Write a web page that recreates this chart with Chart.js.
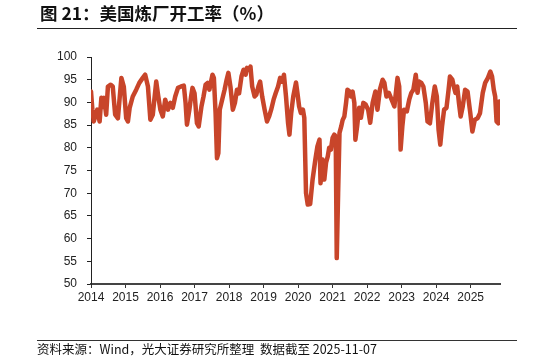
<!DOCTYPE html>
<html><head><meta charset="utf-8">
<script src="https://cdn.jsdelivr.net/npm/chart.js@4"></script>
<style>
html,body{margin:0;padding:0;background:#fff;}
#wrap{position:relative;width:549px;height:361px;overflow:hidden;background:#fff;}
#title{position:absolute;left:40px;top:3px;font:bold 17.5px "Noto Sans CJK SC",sans-serif;color:#111;line-height:20px;white-space:nowrap;}
#tline{position:absolute;left:37px;top:28px;width:480px;height:0;border-top:1px solid #222;}
#fline{position:absolute;left:37px;top:340px;width:480px;height:0;border-top:1px solid #333;}
#foot{position:absolute;left:37px;top:341px;font:12.5px "Noto Sans CJK SC",sans-serif;color:#111;line-height:16px;white-space:nowrap;}
#cv{position:absolute;left:0;top:0;}
</style></head>
<body><div id="wrap">
<canvas id="cv" width="549" height="361"></canvas>
<div id="title">图 21：美国炼厂开工率（%）</div>
<div id="tline"></div>
<div id="fline"></div>
<div id="foot">资料来源：Wind，光大证券研究所整理&nbsp; 数据截至 2025-11-07</div>
</div>
<script>
// decimal-year dates
const dates = [
2014.00,2014.04,2014.08,2014.18,2014.25,2014.30,2014.34,2014.38,2014.44,2014.49,2014.57,2014.63,2014.70,2014.78,2014.88,2014.95,
2015.02,2015.07,2015.12,2015.21,2015.31,2015.40,2015.50,2015.57,2015.65,2015.72,2015.79,2015.89,2015.95,
2016.01,2016.08,2016.15,2016.23,2016.30,2016.37,2016.44,2016.52,2016.61,2016.69,2016.74,2016.78,2016.85,2016.90,2016.94,
2017.00,2017.07,2017.12,2017.20,2017.26,2017.32,2017.38,2017.43,2017.52,2017.56,2017.61,2017.65,2017.69,2017.73,2017.80,2017.87,2017.93,2017.98,
2018.04,2018.11,2018.17,2018.23,2018.29,2018.36,2018.42,2018.48,2018.52,2018.58,2018.62,2018.67,2018.74,2018.79,2018.85,2018.90,2018.96,
2019.03,2019.10,2019.16,2019.22,2019.29,2019.35,2019.42,2019.48,2019.54,2019.59,2019.65,2019.71,2019.75,2019.80,2019.86,2019.94,2019.98,
2020.03,2020.08,2020.14,2020.18,2020.23,2020.28,2020.35,2020.42,2020.50,2020.56,2020.62,2020.65,2020.71,2020.76,2020.81,2020.86,2020.90,2020.95,
2021.00,2021.05,2021.09,2021.12,2021.16,2021.20,2021.25,2021.29,2021.34,2021.39,2021.43,2021.49,2021.53,2021.58,2021.63,2021.66,2021.71,2021.77,2021.82,2021.89,2021.96,
2022.03,2022.09,2022.16,2022.24,2022.30,2022.37,2022.45,2022.50,2022.56,2022.63,2022.71,2022.79,2022.88,2022.93,2022.97,
2023.02,2023.07,2023.15,2023.22,2023.28,2023.34,2023.41,2023.46,2023.51,2023.57,2023.63,2023.70,2023.75,2023.82,2023.89,2023.96,
2024.02,2024.07,2024.12,2024.17,2024.23,2024.30,2024.36,2024.40,2024.47,2024.51,2024.56,2024.61,2024.66,2024.71,2024.77,2024.84,2024.91,2024.99,
2025.05,2025.12,2025.20,2025.27,2025.35,2025.42,2025.50,2025.57,2025.62,2025.67,2025.71,2025.75,2025.80,2025.83,2025.85
];
// refinery utilization (%)
const utilization = [
92.4,88.4,85.8,88.4,85.8,91.0,89.0,91.0,87.3,93.5,93.9,93.5,87.3,86.5,95.4,93.5,
86.5,85.8,88.8,91.3,92.8,94.3,95.4,96.1,93.5,86.2,87.3,94.6,91.3,
88.4,86.9,90.6,88.4,89.9,88.8,91.3,93.2,93.5,93.7,89.9,85.1,88.4,91.3,93.2,
92.0,85.4,84.7,89.1,91.3,93.9,94.3,92.8,96.1,95.4,87.6,77.7,78.8,88.4,90.6,92.8,95.0,96.5,
93.5,88.4,89.9,92.8,92.0,95.7,97.2,96.1,97.6,97.2,97.9,93.5,91.3,91.7,93.5,94.6,91.3,
88.4,85.8,86.9,88.4,90.6,92.0,93.5,95.4,94.6,96.1,91.3,85.4,82.9,87.6,91.3,94.4,92.1,
89.1,87.7,88.4,86.6,70.0,67.5,67.6,73.0,77.4,80.3,81.8,72.2,77.4,73.0,76.7,78.1,80.0,79.6,
82.2,82.9,82.5,55.7,70.0,83.3,84.7,86.1,86.9,89.9,92.8,92.4,91.3,92.4,89.9,81.8,84.7,88.8,86.6,89.9,89.5,
88.4,85.5,89.9,92.4,88.4,92.8,95.0,94.3,91.3,92.1,90.6,89.1,95.4,93.5,79.6,
84.7,88.4,88.0,90.6,92.1,92.8,96.1,92.1,94.6,94.3,93.5,89.9,85.8,85.4,89.9,93.5,
91.3,84.0,80.7,84.7,88.4,88.8,92.8,95.7,95.0,93.5,92.1,93.5,89.9,86.9,89.1,92.8,92.4,87.6,
83.6,86.2,86.5,87.6,92.1,94.3,95.4,96.8,95.7,92.8,91.3,85.8,85.4,90.2,89.5
];
const yearTicks = [2014,2015,2016,2017,2018,2019,2020,2021,2022,2023,2024,2025];
const yTicks = [50,55,60,65,70,75,80,85,90,95,100];

const points = dates.map((d,i)=>({x:d,y:utilization[i]}));
const tickFont = {family:'"Liberation Sans", Arial, sans-serif', size:12};

new Chart(document.getElementById('cv'), {
  type:'line',
  data:{datasets:[{
    data:points,
    borderColor:'#c8452a',
    borderWidth:4.5,
    pointRadius:0,
    tension:0,
    borderJoinStyle:'round',
    borderCapStyle:'round',
    fill:false
  }]},
  options:{
    responsive:false,
    animation:false,
    devicePixelRatio:1,
    layout:{padding:{top:57,right:49,bottom:57,left:0}},
    plugins:{legend:{display:false},tooltip:{enabled:false}},
    scales:{
      x:{
        type:'linear',
        min:2014, max:2025.85,
        afterBuildTicks:s=>{ s.ticks = yearTicks.map(v=>({value:v})); },
        afterFit:s=>{ s.height = 20; },
        ticks:{color:'#222',font:tickFont,padding:2,maxRotation:0,autoSkip:false,callback:v=>String(v)},
        grid:{drawOnChartArea:false,drawTicks:true,tickLength:4,color:'#333',lineWidth:1},
        border:{color:'#444',width:2}
      },
      y:{
        min:50, max:100,
        afterBuildTicks:s=>{ s.ticks = yTicks.map(v=>({value:v})); },
        afterFit:s=>{ s.width = 91; },
        ticks:{color:'#222',font:tickFont,padding:10,callback:v=>String(v)},
        grid:{drawOnChartArea:false,drawTicks:true,tickLength:4,color:'#222',lineWidth:1},
        border:{color:'#222',width:1}
      }
    }
  }
});
</script>
</body></html>
